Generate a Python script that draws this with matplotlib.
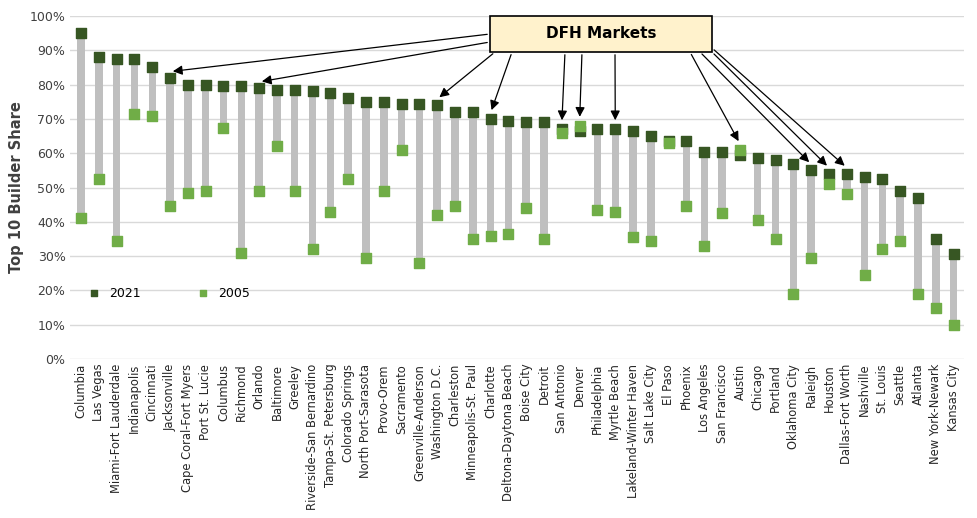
import matplotlib
matplotlib.use("Agg")
import matplotlib.pyplot as plt
from matplotlib.patches import Rectangle
from matplotlib.ticker import PercentFormatter

markets = ["Columbia", "Las Vegas", "Miami-Fort Lauderdale", "Indianapolis", "Cincinnati",
           "Jacksonville", "Cape Coral-Fort Myers", "Port St. Lucie", "Columbus", "Richmond",
           "Orlando", "Baltimore", "Greeley", "Riverside-San Bernardino", "Tampa-St. Petersburg",
           "Colorado Springs", "North Port-Sarasota", "Provo-Orem", "Sacramento",
           "Greenville-Anderson", "Washington D.C.", "Charleston", "Minneapolis-St. Paul",
           "Charlotte", "Deltona-Daytona Beach", "Boise City", "Detroit", "San Antonio", "Denver",
           "Philadelphia", "Myrtle Beach", "Lakeland-Winter Haven", "Salt Lake City", "El Paso",
           "Phoenix", "Los Angeles", "San Francisco", "Austin", "Chicago", "Portland",
           "Oklahoma City", "Raleigh", "Houston", "Dallas-Fort Worth", "Nashville", "St. Louis",
           "Seattle", "Atlanta", "New York-Newark", "Kansas City"]
share_2021 = [95, 88, 87.5, 87.5, 85, 82, 80, 80, 79.5, 79.5, 79, 78.5, 78.5, 78, 77.5, 76, 75,
              75, 74.5, 74.5, 74, 72, 72, 70, 69.5, 69, 69, 67, 66.5, 67, 67, 66.5, 65, 63.5,
              63.5, 60.5, 60.5, 59.5, 58.5, 58, 57, 55, 54, 54, 53, 52.5, 49, 47, 35, 30.5]
share_2005 = [41, 52.5, 34.5, 71.5, 71, 44.5, 48.5, 49, 67.5, 31, 49, 62, 49, 32, 43, 52.5, 29.5,
              49, 61, 28, 42, 44.5, 35, 36, 36.5, 44, 35, 66, 68, 43.5, 43, 35.5, 34.5, 63,
              44.5, 33, 42.5, 61, 40.5, 35, 19, 29.5, 51, 48, 24.5, 32, 34.5, 19, 15, 10]
dfh = ["Jacksonville", "Orlando", "Washington D.C.", "Charlotte", "San Antonio", "Denver",
       "Myrtle Beach", "Austin", "Raleigh", "Houston", "Dallas-Fort Worth"]
# arrow start points on the callout box, figure pixels
arrow_from = [(490, 484), (490, 476), (495, 466), (512, 466), (565, 466), (582, 466),
              (615, 466), (690, 466), (700, 466), (712, 466), (712, 470)]

fig = plt.figure(figsize=(9.77, 5.18), dpi=100)
ax = fig.add_axes([0.072, 0.307, 0.915, 0.662])
x = list(range(len(markets)))
lo = [min(a, b) for a, b in zip(share_2021, share_2005)]
hi = [abs(a - b) for a, b in zip(share_2021, share_2005)]
ax.bar(x, hi, bottom=lo, width=0.42, color="#bfbfbf", zorder=2)
ax.scatter(x, share_2021, marker="s", s=60, color="#375623", zorder=3, label="2021")
ax.scatter(x, share_2005, marker="s", s=60, color="#70ad47", zorder=4, label="2005")

ax.set_ylim(0, 100)
ax.set_xlim(-0.6, len(markets) - 0.4)
ax.set_yticks(range(0, 101, 10))
ax.yaxis.set_major_formatter(PercentFormatter(decimals=0))
ax.set_xticks(x)
ax.set_xticklabels(markets, rotation=90, fontsize=8.3, color="#262626")
ax.tick_params(axis="y", labelsize=9, colors="#404040", length=0)
ax.tick_params(axis="x", length=0)
ax.grid(axis="y", color="#d9d9d9", lw=1, zorder=0)
for s in ax.spines.values():
    s.set_visible(False)
ax.set_ylabel("Top 10 Builder Share", fontsize=10.5, fontweight="bold", color="#404040")
ax.legend(loc="lower left", bbox_to_anchor=(0.0, 0.14), ncol=2, frameon=False,
          fontsize=9, handletextpad=0.2, columnspacing=4, markerscale=0.6)

for name, start in zip(dfh, arrow_from):
    i = markets.index(name)
    ax.annotate("", xy=(i, max(share_2021[i], share_2005[i]) + 1.8), xycoords="data",
                xytext=start, textcoords="figure pixels",
                arrowprops=dict(arrowstyle="-|>", color="black", lw=0.9, mutation_scale=14),
                zorder=5)
fig.patches.append(Rectangle((490 / 977, 1 - 52 / 518), 222 / 977, 36 / 518,
                             transform=fig.transFigure, fc="#fff2cc", ec="black", lw=1.2,
                             zorder=6))
fig.text(601 / 977, 1 - 34 / 518, "DFH Markets", ha="center", va="center", fontsize=11,
         fontweight="bold", zorder=7)
fig.savefig("out.png", dpi=100)
